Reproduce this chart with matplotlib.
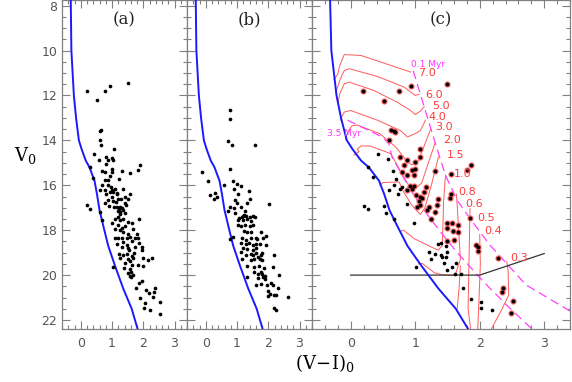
import matplotlib
matplotlib.use("Agg")
import matplotlib.pyplot as plt
from matplotlib.ticker import MultipleLocator

plt.rcParams['mathtext.fontset'] = 'dejavuserif'

# ---------------- data ----------------
zams_x = [-0.32, -0.30, -0.22, -0.15, -0.06, 0.03, 0.16, 0.28, 0.44, 0.52, 0.60, 0.72, 0.88, 1.10, 1.36, 1.63, 1.82]
zams_v = [7.7, 10.0, 12.0, 13.0, 14.0, 14.4, 14.9, 15.2, 15.8, 16.4, 17.1, 17.8, 18.7, 19.6, 20.6, 21.5, 22.4]

a_x = [0.2, 0.78, 0.95, 1.51, 0.53, 0.62, 0.66, 0.61, 0.66, 1.05, 0.43, 0.8, 0.99, 0.58, 0.88, 1.04,
       0.81, 0.28, 1.9, 1.82, 0.67, 0.78, 1.01, 0.99, 1.31, 1.58, 0.94, 0.88, 0.38, 0.78, 1.22, 0.67,
       0.88, 0.96, 1.1, 0.76, 0.61, 1.36, 0.92, 1.04, 0.81, 1.15, 1.58, 1.42, 0.99, 1.2, 1.52, 0.86,
       1.04, 0.78, 1.26, 1.42, 0.9, 0.21, 0.3, 1.06, 1.16, 0.62, 0.69, 1.15, 1.22, 1.31, 1.27, 1.2,
       1.35, 1.25, 1.1, 0.99, 1.26, 1.36, 1.52, 1.63, 1.86, 1.2, 1.42, 1.26, 1.68, 1.36, 1.52, 1.79,
       1.08, 1.2, 1.31, 1.48, 1.58, 1.73, 1.82, 1.36, 1.63, 1.15, 1.47, 1.86, 1.95, 1.31, 1.52, 1.73,
       1.95, 1.22, 1.36, 1.47, 1.63, 1.26, 1.5, 1.56, 1.68, 2.0, 2.16, 2.29, 1.04, 1.42, 1.63, 1.84,
       2.0, 1.39, 1.56, 1.6, 1.52, 1.67, 1.57, 1.62, 1.86, 1.95, 1.76, 2.08, 2.37, 2.35, 2.18, 2.32,
       1.89, 2.55, 2.05, 2.03, 2.21, 2.52, 1.0, 1.12, 1.3, 1.45, 1.18, 1.4, 1.33, 1.1, 1.55, 1.7]
a_v = [11.78, 11.78, 11.56, 11.45, 12.22, 13.6, 13.55, 14.0, 14.2, 14.37, 14.6, 14.74, 14.77, 14.86, 14.89, 14.89,
       15.04, 15.19, 15.08, 15.33, 15.38, 15.4, 15.26, 15.4, 15.38, 15.45, 15.6, 15.75, 15.66, 15.78, 15.73, 16.0,
       16.0, 16.09, 16.15, 16.19, 16.22, 16.15, 16.3, 16.3, 16.4, 16.4, 16.4, 16.52, 16.53, 16.59, 16.62, 16.67,
       16.71, 16.81, 16.96, 16.81, 16.93, 16.89, 17.04, 16.96, 16.36, 17.19, 17.56, 16.96, 17.07, 17.0, 17.2, 17.15,
       17.1, 17.3, 17.48, 17.66, 17.56, 17.48, 17.63, 17.7, 17.48, 17.78, 17.81, 18.0, 17.93, 18.1, 18.15, 18.15,
       18.37, 18.33, 18.35, 18.33, 18.3, 18.33, 18.36, 18.52, 18.49, 18.6, 18.64, 18.55, 18.74, 18.74, 18.79, 18.74,
       18.89, 19.04, 19.1, 19.08, 19.14, 19.26, 19.3, 19.36, 19.26, 19.26, 19.33, 19.23, 19.63, 19.44, 19.53, 19.56,
       19.59, 19.7, 19.75, 19.84, 19.9, 20.0, 20.06, 20.1, 20.33, 20.27, 20.56, 20.67, 20.59, 20.77, 20.81, 20.96,
       21.04, 21.19, 21.23, 21.48, 21.56, 21.73, 16.2, 16.75, 16.6, 16.9, 17.4, 17.25, 17.9, 17.95, 18.9, 19.0]

b_x = [0.79, 0.76, 0.7, 0.83, 1.56, 0.76, -0.13, 0.06, 0.59, 0.88, 1.0, 1.13, 0.91, 0.31, 0.15, 0.35,
       0.26, 1.39, 1.02, 1.42, 0.95, 1.32, 2.01, 1.0, 0.78, 0.89, 1.13, 1.27, 0.72, 0.94, 1.23, 1.17,
       1.29, 1.4, 1.5, 1.58, 1.07, 1.18, 1.02, 1.18, 1.33, 1.44, 1.02, 1.13, 1.24, 1.4, 1.5, 1.22,
       1.33, 1.44, 1.77, 0.88, 0.79, 1.17, 1.28, 1.44, 1.6, 1.65, 1.82, 1.93, 1.12, 1.28, 1.39, 1.5,
       1.6, 1.72, 1.93, 1.18, 1.33, 1.5, 1.6, 1.12, 1.44, 1.62, 1.81, 1.28, 1.5, 1.68, 1.78, 2.19,
       1.17, 1.44, 1.55, 1.72, 1.8, 1.33, 1.55, 1.7, 1.86, 2.14, 1.32, 1.55, 1.66, 1.76, 1.8, 1.66,
       1.83, 1.88, 1.91, 2.35, 1.6, 1.76, 1.97, 2.1, 2.14, 2.0, 2.05, 2.3, 2.0, 2.18, 2.26, 2.62,
       2.18, 2.25]
b_v = [12.64, 13.05, 14.03, 14.22, 14.19, 15.26, 15.41, 15.81, 16.0, 15.82, 15.93, 16.04, 16.15, 16.34, 16.44, 16.52,
       16.62, 16.27, 16.41, 16.59, 16.64, 16.77, 16.84, 16.81, 16.96, 16.99, 16.96, 17.14, 17.16, 17.23, 17.33, 17.4,
       17.38, 17.42, 17.38, 17.4, 17.45, 17.35, 17.56, 17.55, 17.52, 17.58, 17.78, 17.82, 17.75, 17.8, 17.78, 18.04,
       18.1, 18.06, 18.07, 18.3, 18.4, 18.36, 18.42, 18.33, 18.33, 18.4, 18.36, 18.25, 18.58, 18.62, 18.55, 18.66,
       18.6, 18.6, 18.67, 18.8, 18.82, 18.88, 18.8, 18.98, 19.05, 19.0, 19.0, 19.12, 19.12, 19.18, 19.1, 19.1,
       19.3, 19.33, 19.28, 19.28, 19.33, 19.6, 19.65, 19.6, 19.7, 19.63, 20.07, 19.88, 19.95, 19.85, 19.95, 20.13,
       20.1, 20.18, 20.05, 20.0, 20.44, 20.4, 20.44, 20.33, 20.45, 20.73, 20.85, 20.56, 20.93, 20.9, 20.87, 20.96,
       21.46, 21.55]

c_x = [0.42, 0.58, 0.27, 0.66, 0.35, 0.7, 0.6, 0.8, 0.67, 0.76, 0.73, 0.21, 0.27, 0.51, 0.54, 0.67,
       0.88, 0.98, 1.36, 1.4, 1.47, 1.21, 1.3, 1.25, 1.4, 1.41, 1.47, 1.49, 1.44, 1.57, 1.64, 1.5,
       1.61, 1.71, 1.02, 1.74, 1.87, 2.02, 2.02, 2.19]
c_v = [14.59, 14.81, 15.18, 15.38, 15.63, 15.7, 16.19, 16.07, 16.0, 16.15, 16.37, 16.92, 17.07, 16.92, 17.22, 17.51,
       16.84, 17.7, 18.6, 18.55, 18.7, 18.96, 19.08, 19.3, 19.1, 19.2, 19.18, 18.96, 19.44, 19.63, 19.48, 19.78,
       19.97, 19.93, 19.63, 20.57, 21.07, 21.21, 21.48, 21.56]

yso_x = [1.49, 0.93, 0.75, 0.19, 0.51, 0.63, 0.67, 0.69, 0.6, 1.07, 0.77, 0.87, 1.07, 1.0, 0.82, 1.0,
         0.95, 1.3, 0.79, 0.87, 0.98, 0.92, 0.98, 1.16, 1.55, 1.81, 1.87, 0.87, 0.95, 1.02, 1.08, 1.13,
         1.11, 1.06, 1.08, 1.03, 1.21, 1.19, 1.31, 1.25, 1.34, 1.36, 1.54, 1.56, 1.49, 1.57, 1.49, 1.66,
         1.58, 1.67, 1.6, 1.49, 1.85, 1.94, 1.98, 1.98, 2.29, 2.36, 2.35, 2.52, 2.49]
yso_v = [11.48, 11.56, 11.78, 11.78, 12.25, 13.55, 13.6, 13.63, 14.0, 14.37, 14.74, 14.86, 14.74, 14.96, 15.1, 15.26,
         15.33, 15.38, 15.41, 15.55, 15.55, 16.03, 16.03, 16.07, 15.48, 15.33, 15.11, 16.2, 16.17, 16.42, 16.5, 16.3,
         16.56, 16.71, 16.89, 16.96, 16.96, 17.11, 17.18, 17.48, 16.89, 16.59, 16.56, 16.37, 17.66, 17.66, 17.9, 17.78,
         18.04, 18.07, 18.42, 18.5, 17.45, 18.67, 18.74, 18.93, 19.23, 20.59, 20.77, 21.16, 21.7]

# PMS evolutionary tracks (colour, V)
track_70 = [(-0.26, 11.3), (-0.2, 11.04), (-0.17, 10.67), (-0.1, 10.18), (0.16, 10.22), (0.93, 10.96)]
track_60 = [(-0.23, 11.85), (-0.16, 11.26), (-0.1, 10.89), (-0.02, 10.81), (0.42, 11.16), (0.83, 11.63), (1.0, 12.0), (1.06, 11.95)]
track_50 = [(-0.2, 12.35), (-0.17, 11.93), (-0.1, 11.48), (-0.02, 11.41), (0.36, 11.78), (0.72, 12.3), (0.93, 12.67), (1.0, 12.85), (1.08, 12.7), (1.14, 12.5)]
track_40 = [(-0.16, 13.1), (-0.13, 12.9), (-0.1, 12.74), (0.0, 12.67), (0.42, 13.11), (0.77, 13.56), (0.88, 13.85), (1.0, 13.7), (1.08, 13.56), (1.16, 13.1)]
track_30 = [(-0.08, 13.95), (-0.04, 13.6), (0.02, 13.35), (0.1, 13.32), (0.45, 13.7), (0.7, 14.3), (0.85, 14.85), (0.95, 15.1), (1.05, 14.9), (1.24, 13.5)]
track_20 = [(0.05, 14.65), (0.13, 14.5), (0.1, 14.4), (0.16, 14.25), (0.3, 14.25), (0.62, 14.59), (0.75, 15.26), (0.88, 15.92), (0.98, 16.2), (1.1, 15.9), (1.31, 14.1)]
track_15 = [(0.45, 16.0), (0.5, 15.88), (0.75, 15.85), (0.82, 16.3), (0.95, 16.9), (1.08, 17.3), (1.15, 17.0), (1.25, 16.0), (1.36, 14.75)]
track_10 = [(0.77, 18.05), (0.82, 18.0), (0.98, 18.37), (1.24, 18.74), (1.36, 18.89), (1.42, 18.67), (1.43, 17.78), (1.44, 16.74), (1.47, 15.55)]
track_08 = [(1.05, 19.5), (1.11, 19.48), (1.3, 19.9), (1.44, 20.0), (1.62, 20.0), (1.7, 19.3), (1.67, 17.78), (1.64, 16.4)]
track_08b = [(1.7, 19.6), (1.68, 20.6), (1.65, 21.5)]
track_06 = [(1.85, 17.05), (1.84, 18.5), (1.83, 20.0), (1.82, 21.5), (1.86, 22.4)]
track_05 = [(2.0, 18.2), (2.01, 19.5), (1.99, 21.0), (1.97, 22.4)]
track_03 = [(2.42, 19.4), (2.44, 19.8), (2.45, 20.9), (2.33, 21.6), (2.18, 22.4)]
tracks = [track_70, track_60, track_50, track_40, track_30, track_20, track_15,
          track_10, track_08, track_08b, track_06, track_05, track_03]

mass_labels = ['7.0', '6.0', '5.0', '4.0', '3.0', '2.0', '1.5', '1.0', '0.8', '0.6', '0.5', '0.4', '0.3']
mass_lab_x = [1.05, 1.16, 1.27, 1.2, 1.31, 1.43, 1.49, 1.6, 1.67, 1.78, 1.96, 2.07, 2.47]
mass_lab_v = [11.0, 12.0, 12.45, 12.97, 13.4, 14.0, 14.67, 15.5, 16.3, 16.84, 17.46, 18.04, 19.24]

iso01_x = [0.97, 1.18, 1.33, 1.47, 1.65, 1.85, 2.16, 2.72, 3.4]
iso01_v = [10.9, 12.89, 14.3, 15.56, 16.67, 17.48, 18.67, 20.44, 21.6]
iso35_x = [-0.05, 0.49, 0.59, 0.64, 0.9, 1.08, 1.39, 1.64, 2.06, 2.47, 2.8]
iso35_v = [13.1, 13.85, 14.15, 14.74, 16.07, 16.89, 18.07, 18.96, 20.3, 21.48, 22.37]

limit_x = [0.0, 2.0, 3.0]
limit_v = [20.0, 20.0, 19.04]

# ---------------- figure ----------------
W, H = 572, 382
fig = plt.figure(figsize=(W / 100, H / 100), dpi=100)
bot = 1 - 329 / H
hgt = 1.0 - bot
ax_a = fig.add_axes([62 / W, bot, 125 / W, hgt])
ax_b = fig.add_axes([187 / W, bot, 125 / W, hgt])
ax_c = fig.add_axes([312 / W, bot, 258 / W, hgt])

grey = '#808080'
tick_col = '#555555'
for ax in (ax_a, ax_b, ax_c):
    ax.set_xlim(-0.6, 3.4)
    ax.set_ylim(22.4, 7.75)
    ax.xaxis.set_major_locator(MultipleLocator(1))
    ax.xaxis.set_minor_locator(MultipleLocator(0.2))
    ax.yaxis.set_major_locator(MultipleLocator(2))
    ax.yaxis.set_minor_locator(MultipleLocator(0.5))
    ax.tick_params(which='both', direction='in', top=True, right=True, color=grey,
                   labelsize=9, labelcolor=tick_col)
    ax.tick_params(which='major', length=6, width=0.8)
    ax.tick_params(which='minor', length=3, width=0.8)
    ax.tick_params(axis='x', pad=6)
    for s in ax.spines.values():
        s.set_color(grey)
        s.set_linewidth(0.9)
    ax.plot(zams_x, zams_v, color='#1a1aff', lw=1.4, zorder=3)

for ax in (ax_b, ax_c):
    ax.tick_params(labelleft=False)

ax_a.scatter(a_x, a_v, s=7, color='black', lw=0, zorder=4)
ax_b.scatter(b_x, b_v, s=7, color='black', lw=0, zorder=4)

for t in tracks:
    ax_c.plot([p[0] for p in t], [p[1] for p in t], color='#ff5a5a', lw=0.7, zorder=2)
ax_c.plot(iso01_x, iso01_v, color='#ff40ff', lw=0.9, dashes=(7, 4), zorder=2)
ax_c.plot(iso35_x, iso35_v, color='#ff40ff', lw=0.9, dashes=(7, 4), zorder=2)
ax_c.plot(limit_x, limit_v, color='#333333', lw=0.9, zorder=2)

ax_c.scatter(c_x, c_v, s=7, color='black', lw=0, zorder=4)
ax_c.scatter(yso_x, yso_v, s=20, color='#ff6a6a', lw=0, zorder=4)
ax_c.scatter(yso_x, yso_v, s=8, color='black', lw=0, zorder=5)

for lab, x, v in zip(mass_labels, mass_lab_x, mass_lab_v):
    ax_c.text(x, v, lab, color='#ff3b3b', fontsize=8, va='center', ha='left', zorder=6)
ax_c.text(0.93, 10.6, '0.1 Myr', color='#ff33ff', fontsize=6.5, va='center', ha='left', zorder=6)
ax_c.text(-0.37, 13.7, '3.5 Myr', color='#ff33ff', fontsize=6.5, va='center', ha='left', zorder=6)

for ax, lab in ((ax_a, '(a)'), (ax_b, '(b)'), (ax_c, '(c)')):
    ax.text(0.5, 0.939, lab, transform=ax.transAxes, ha='center', va='center',
            fontsize=12, family='DejaVu Serif', color='#222222')

fig.text(25 / W, 1 - 156 / H, r'$\mathrm{V}_0$', fontsize=13, ha='center', va='center')
fig.text(325 / W, 1 - 363 / H, r'$\mathrm{(V\!-\!I)}_0$', fontsize=13, ha='center', va='center')

fig.savefig('out.png', dpi=100)
